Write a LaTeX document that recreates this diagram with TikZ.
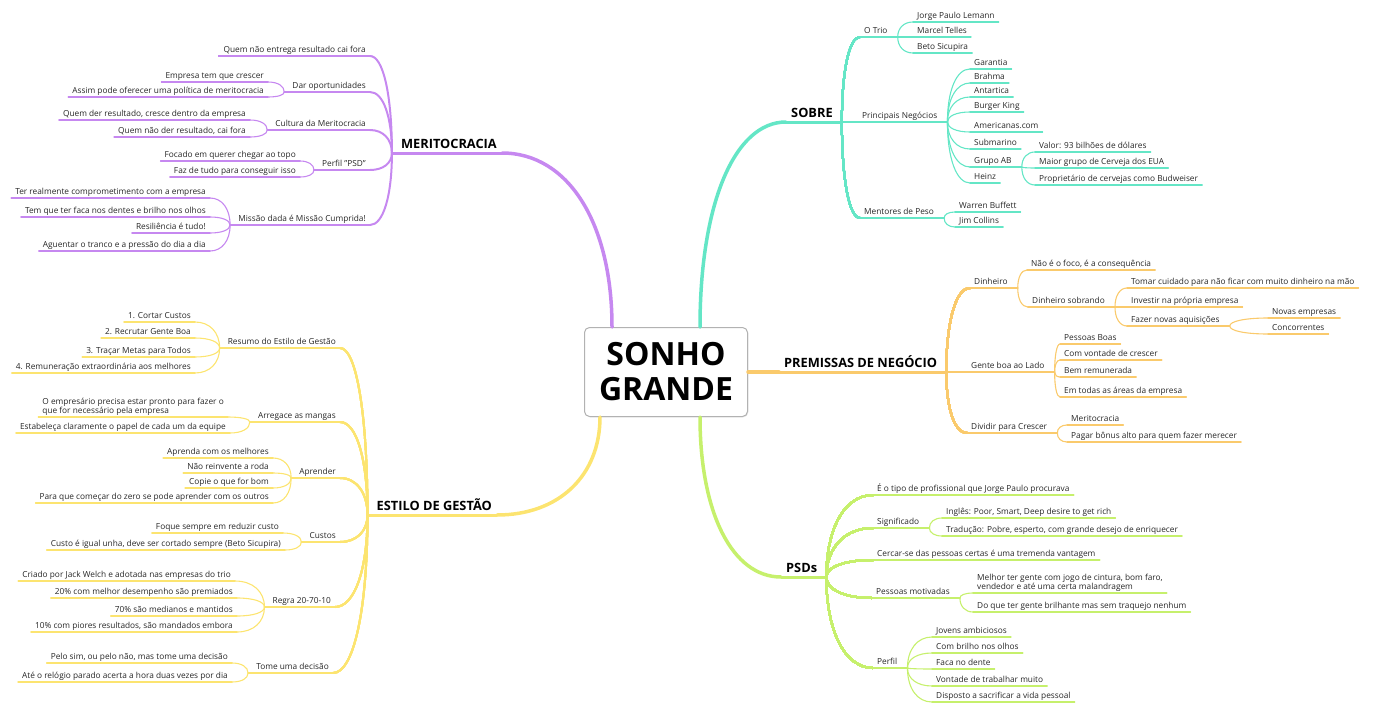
\documentclass[tikz,border=0pt]{standalone}
\usepackage{fontspec}
\setmainfont{Open Sans}
\usetikzlibrary{calc,shadows}

\definecolor{merc}{RGB}{198,136,240}
\definecolor{estc}{RGB}{252,228,112}
\definecolor{sobc}{RGB}{100,230,198}
\definecolor{prec}{RGB}{250,202,108}
\definecolor{psdc}{RGB}{198,240,108}

\tikzstyle{txt}=[inner xsep=4pt,inner ysep=1pt,text height=6pt,text depth=2pt,font=\fontsize{8.3}{9.4}\selectfont,text=black!85]
\tikzstyle{lt}=[txt,anchor=south east]
\tikzstyle{rt}=[txt,anchor=south west]
\tikzstyle{head}=[inner xsep=5pt,inner ysep=2pt,text depth=2.5pt,font=\bfseries\fontsize{12.8}{14}\selectfont]
\tikzstyle{trunk}=[line width=3.5pt,line cap=round]
\tikzstyle{limb}=[line width=2pt,line cap=round]
\tikzstyle{twig}=[line width=1.1pt,line cap=round]

\newcommand{\mmlink}[3]{\draw[#1] (#2) .. controls ($(#2)!0.6!(#2|-#3)$) and ($(#3)!0.6!(#2|-#3)$) .. (#3);}

\begin{document}
\begin{tikzpicture}[x=1pt,y=-1pt]
\useasboundingbox (0,0) rectangle (1395,704);

\node[draw=black!30,line width=1pt,rounded corners=5pt,fill=white,
  drop shadow={opacity=0.2,shadow xshift=0.8pt,shadow yshift=-0.8pt},
  minimum width=163pt,minimum height=89pt,align=center,
  font=\bfseries\fontsize{32}{35}\selectfont] (root) at (666,372) {SONHO\\GRANDE};

\coordinate (rMER) at ([xshift=-54pt]root.north);
\coordinate (rSOB) at ([xshift=34pt]root.north);
\coordinate (rEST) at ([xshift=-66pt]root.south);
\coordinate (rPSD) at ([xshift=34pt]root.south);

% main topics
\node[head,anchor=south east] (MER) at (502,153) {MERITOCRACIA};
\node[head,anchor=south east] (EST) at (497,515) {ESTILO DE GESTÃO};
\node[head,anchor=south west] (SOB) at (786,122) {SOBRE};
\node[head,anchor=south west] (PRE) at (779,372) {PREMISSAS DE NEGÓCIO};
\node[head,anchor=south west] (PSD) at (781,577) {PSDs};

% meritocracia
\node[lt] (m1) at (370,56) {Quem não entrega resultado cai fora};
\node[lt] (m2) at (370,92) {Dar oportunidades};
\node[lt] (m21) at (268,82) {Empresa tem que crescer};
\node[lt] (m22) at (268,97) {Assim pode oferecer uma política de meritocracia};
\node[lt] (m3) at (370,130) {Cultura da Meritocracia};
\node[lt] (m31) at (250,120) {Quem der resultado, cresce dentro da empresa};
\node[lt] (m32) at (250,137) {Quem não der resultado, cai fora};
\node[lt] (m4) at (370,170) {Perfil {"}PSD{"}};
\node[lt] (m41) at (300,161) {Focado em querer chegar ao topo};
\node[lt] (m42) at (300,177) {Faz de tudo para conseguir isso};
\node[lt] (m5) at (370,225) {Missão dada é Missão Cumprida!};
\node[lt] (m51) at (210,198) {Ter realmente comprometimento com a empresa};
\node[lt] (m52) at (210,217) {Tem que ter faca nos dentes e brilho nos olhos};
\node[lt] (m53) at (210,233) {Resiliência é tudo!};
\node[lt] (m54) at (210,251) {Aguentar o tranco e a pressão do dia a dia};

% estilo de gestao
\node[lt] (e1) at (340,348) {Resumo do Estilo de Gestão};
\node[lt] (e11) at (195,322) {1. Cortar Custos};
\node[lt] (e12) at (195,338) {2. Recrutar Gente Boa};
\node[lt] (e13) at (195,357) {3. Traçar Metas para Todos};
\node[lt] (e14) at (195,373) {4. Remuneração extraordinária aos melhores};
\node[lt] (e2) at (340,422) {Arregace as mangas};
\node[lt,align=left,text height=15pt] (e21) at (228,417) {O empresário precisa estar pronto para fazer o\\que for necessário pela empresa};
\node[lt] (e22) at (230,433) {Estabeleça claramente o papel de cada um da equipe};
\node[lt] (e3) at (340,478) {Aprender};
\node[lt] (e31) at (273,458) {Aprenda com os melhores};
\node[lt] (e32) at (273,473) {Não reinvente a roda};
\node[lt] (e33) at (273,488) {Copie o que for bom};
\node[lt] (e34) at (273,503) {Para que começar do zero se pode aprender com os outros};
\node[lt] (e4) at (340,542) {Custos};
\node[lt] (e41) at (283,533) {Foque sempre em reduzir custo};
\node[lt] (e42) at (285,550) {Custo é igual unha, deve ser cortado sempre (Beto Sicupira)};
\node[lt] (e5) at (335,607) {Regra 20-70-10};
\node[lt] (e51) at (235,581) {Criado por Jack Welch e adotada nas empresas do trio};
\node[lt] (e52) at (237,598) {20\% com melhor desempenho são premiados};
\node[lt] (e53) at (237,616) {70\% são medianos e mantidos};
\node[lt] (e54) at (237,632) {10\% com piores resultados, são mandados embora};
\node[lt] (e6) at (333,673) {Tome uma decisão};
\node[lt] (e61) at (232,663) {Pelo sim, ou pelo não, mas tome uma decisão};
\node[lt] (e62) at (232,682) {Até o relógio parado acerta a hora duas vezes por dia};

% sobre
\node[rt] (s1) at (860,37) {O Trio};
\node[rt] (s11) at (913,22) {Jorge Paulo Lemann};
\node[rt] (s12) at (913,37) {Marcel Telles};
\node[rt] (s13) at (913,53) {Beto Sicupira};
\node[rt] (s2) at (858,122) {Principais Negócios};
\node[rt] (s21) at (970,69) {Garantia};
\node[rt] (s22) at (970,83) {Brahma};
\node[rt] (s23) at (970,97) {Antartica};
\node[rt] (s24) at (970,112) {Burger King};
\node[rt] (s25) at (970,132) {Americanas.com};
\node[rt] (s26) at (970,149) {Submarino};
\node[rt] (s27) at (970,167) {Grupo AB};
\node[rt] (s271) at (1035,152) {Valor: 93 bilhões de dólares};
\node[rt] (s272) at (1035,168) {Maior grupo de Cerveja dos EUA};
\node[rt] (s273) at (1035,185) {Proprietário de cervejas como Budweiser};
\node[rt] (s28) at (970,183) {Heinz};
\node[rt] (s3) at (860,218) {Mentores de Peso};
\node[rt] (s31) at (955,212) {Warren Buffett};
\node[rt] (s32) at (955,227) {Jim Collins};

% premissas de negocio
\node[rt] (p1) at (970,288) {Dinheiro};
\node[rt] (p11) at (1027,270) {Não é o foco, é a consequência};
\node[rt] (p12) at (1028,307) {Dinheiro sobrando};
\node[rt] (p121) at (1127,288) {Tomar cuidado para não ficar com muito dinheiro na mão};
\node[rt] (p122) at (1127,307) {Investir na própria empresa};
\node[rt] (p123) at (1127,326) {Fazer novas aquisições};
\node[rt] (p1231) at (1268,318) {Novas empresas};
\node[rt] (p1232) at (1268,334) {Concorrentes};
\node[rt] (p2) at (967,372) {Gente boa ao Lado};
\node[rt] (p21) at (1060,344) {Pessoas Boas};
\node[rt] (p22) at (1060,360) {Com vontade de crescer};
\node[rt] (p23) at (1060,377) {Bem remunerada};
\node[rt] (p24) at (1060,397) {Em todas as áreas da empresa};
\node[rt] (p3) at (967,433) {Dividir para Crescer};
\node[rt] (p31) at (1067,425) {Meritocracia};
\node[rt] (p32) at (1067,442) {Pagar bônus alto para quem fazer merecer};

% psds
\node[rt] (d1) at (873,495) {É o tipo de profissional que Jorge Paulo procurava};
\node[rt] (d2) at (873,528) {Significado};
\node[rt] (d21) at (942,518) {Inglês: Poor, Smart, Deep desire to get rich};
\node[rt] (d22) at (942,536) {Tradução: Pobre, esperto, com grande desejo de enriquecer};
\node[rt] (d3) at (873,560) {Cercar-se das pessoas certas é uma tremenda vantagem};
\node[rt] (d4) at (872,598) {Pessoas motivadas};
\node[rt,align=left,text height=15pt] (d41) at (973,593) {Melhor ter gente com jogo de cintura, bom faro,\\vendedor e até uma certa malandragem};
\node[rt] (d42) at (973,612) {Do que ter gente brilhante mas sem traquejo nenhum};
\node[rt] (d5) at (873,668) {Perfil};
\node[rt] (d51) at (932,637) {Jovens ambiciosos};
\node[rt] (d52) at (932,653) {Com brilho nos olhos};
\node[rt] (d53) at (932,669) {Faca no dente};
\node[rt] (d54) at (932,686) {Vontade de trabalhar muito};
\node[rt] (d55) at (932,702) {Disposto a sacrificar a vida pessoal};

% hubs
\coordinate (MERh) at ([xshift=-4pt]MER.south west);
\coordinate (ESTh) at ([xshift=-4pt]EST.south west);
\coordinate (SOBh) at ([xshift=4pt]SOB.south east);
\coordinate (PREh) at ([xshift=4pt]PRE.south east);
\coordinate (PSDh) at ([xshift=4pt]PSD.south east);
\foreach \n/\c in {m2/merc,m3/merc,m4/merc,m5/merc,e1/estc,e2/estc,e3/estc,e4/estc,e5/estc,e6/estc}{
  \coordinate (\n h) at ([xshift=-4pt]\n.south west);
  \draw[\c,limb] (\n h) -- (\n.south east);
}
\foreach \n/\c in {s1/sobc,s2/sobc,s3/sobc,p1/prec,p2/prec,p3/prec,d2/psdc,d4/psdc,d5/psdc}{
  \coordinate (\n h) at ([xshift=6pt]\n.south east);
  \draw[\c,limb] (\n.south west) -- (\n h);
}
\foreach \n/\c in {s27/sobc,p12/prec,p123/prec}{
  \coordinate (\n h) at ([xshift=6pt]\n.south east);
  \draw[\c,twig] (\n.south west) -- (\n h);
}

% trunks
\mmlink{merc,trunk}{rMER}{MER.south east}
\mmlink{estc,trunk}{rEST}{EST.south east}
\mmlink{sobc,trunk}{rSOB}{SOB.south west}
\mmlink{psdc,trunk}{rPSD}{PSD.south west}
\draw[prec,trunk] (root.east) -- (PRE.south west);
\draw[merc,line width=3pt] (MER.south east) -- (MERh);
\draw[estc,line width=3pt] (EST.south east) -- (ESTh);
\draw[sobc,line width=3pt] (SOB.south west) -- (SOBh);
\draw[prec,line width=3pt] (PRE.south west) -- (PREh);
\draw[psdc,line width=3pt] (PSD.south west) -- (PSDh);

% second level links
\foreach \n in {m1,m2,m3,m4,m5} \mmlink{merc,limb}{MERh}{\n.south east}
\foreach \n in {e1,e2,e3,e4,e5,e6} \mmlink{estc,limb}{ESTh}{\n.south east}
\foreach \n in {s1,s2,s3} \mmlink{sobc,limb}{SOBh}{\n.south west}
\foreach \n in {p1,p2,p3} \mmlink{prec,limb}{PREh}{\n.south west}
\foreach \n in {d1,d2,d3,d4,d5} \mmlink{psdc,limb}{PSDh}{\n.south west}
\draw[merc,limb] (m1.south west) -- (m1.south east);
\foreach \n in {d1,d3} \draw[psdc,limb] (\n.south west) -- (\n.south east);

% leaves
\foreach \p/\n in {m2/m21,m2/m22,m3/m31,m3/m32,m4/m41,m4/m42,m5/m51,m5/m52,m5/m53,m5/m54}{
  \mmlink{merc,twig}{\p h}{\n.south east}
  \draw[merc,twig] (\n.south west) -- (\n.south east);
}
\foreach \p/\n in {e1/e11,e1/e12,e1/e13,e1/e14,e2/e21,e2/e22,e3/e31,e3/e32,e3/e33,e3/e34,e4/e41,e4/e42,e5/e51,e5/e52,e5/e53,e5/e54,e6/e61,e6/e62}{
  \mmlink{estc,twig}{\p h}{\n.south east}
  \draw[estc,twig] (\n.south west) -- (\n.south east);
}
\foreach \p/\n in {s1/s11,s1/s12,s1/s13,s2/s21,s2/s22,s2/s23,s2/s24,s2/s25,s2/s26,s2/s27,s2/s28,s27/s271,s27/s272,s27/s273,s3/s31,s3/s32}{
  \mmlink{sobc,twig}{\p h}{\n.south west}
  \draw[sobc,twig] (\n.south west) -- (\n.south east);
}
\foreach \p/\n in {p1/p11,p1/p12,p12/p121,p12/p122,p12/p123,p123/p1231,p123/p1232,p2/p21,p2/p22,p2/p23,p2/p24,p3/p31,p3/p32}{
  \mmlink{prec,twig}{\p h}{\n.south west}
  \draw[prec,twig] (\n.south west) -- (\n.south east);
}
\foreach \p/\n in {d2/d21,d2/d22,d4/d41,d4/d42,d5/d51,d5/d52,d5/d53,d5/d54,d5/d55}{
  \mmlink{psdc,twig}{\p h}{\n.south west}
  \draw[psdc,twig] (\n.south west) -- (\n.south east);
}
\end{tikzpicture}
\end{document}
